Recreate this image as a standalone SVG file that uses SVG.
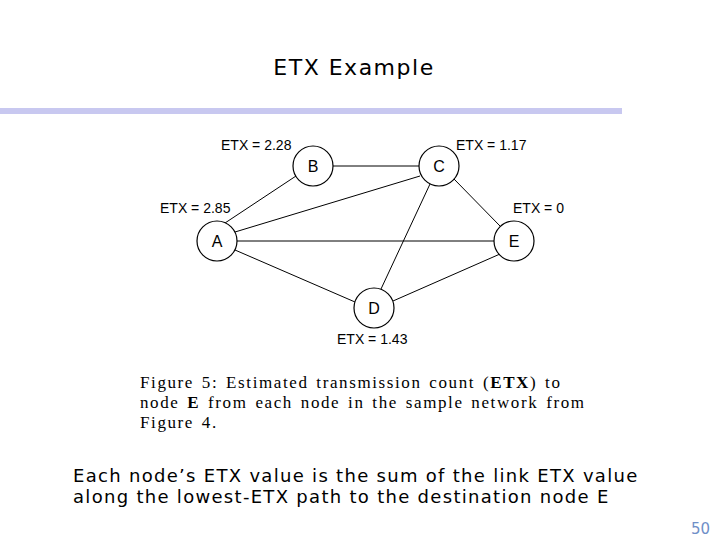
<svg xmlns="http://www.w3.org/2000/svg" width="720" height="540" viewBox="0 0 720 540">
<style>
.n{fill:#fff;stroke:#000;stroke-width:1.2}
.l{font-family:"Liberation Sans",Arial,sans-serif;font-size:14px;fill:#000}
.nl{font-family:"Liberation Sans",Arial,sans-serif;font-size:16px;fill:#000;text-anchor:middle}
.cap{font-family:"Liberation Serif",serif;font-size:17px;fill:#000;letter-spacing:1.6px;word-spacing:2px}
.body{font-family:"DejaVu Sans",sans-serif;font-size:18px;fill:#000;letter-spacing:1.3px}
</style>
<rect width="720" height="540" fill="#fff"/>
<text x="354" y="75" text-anchor="middle" font-family="DejaVu Sans,sans-serif" font-size="22" letter-spacing="1.5">ETX Example</text>
<rect x="0" y="108" width="622" height="6" fill="#c8c8f0"/>
<g id="connectors" stroke="#000" stroke-width="1">
<line x1="333" y1="166" x2="419" y2="166"/>
<line x1="225" y1="223" x2="296" y2="176"/>
<line x1="235" y1="232" x2="420" y2="176"/>
<line x1="237" y1="241" x2="494" y2="241"/>
<line x1="235" y1="250" x2="355" y2="302"/>
<line x1="430" y1="184" x2="381" y2="289"/>
<line x1="454" y1="179" x2="500" y2="226"/>
<line x1="393" y1="301" x2="500" y2="254"/>
</g>
<g id="A"><circle class="n" cx="217" cy="241" r="20"/><text class="nl" x="217" y="247">A</text><text class="l" x="160" y="213">ETX = 2.85</text></g>
<g id="B"><circle class="n" cx="313" cy="166" r="20"/><text class="nl" x="313" y="172">B</text><text class="l" x="221" y="150">ETX = 2.28</text></g>
<g id="C"><circle class="n" cx="439" cy="166" r="20"/><text class="nl" x="439" y="172">C</text><text class="l" x="456" y="150">ETX = 1.17</text></g>
<g id="E"><circle class="n" cx="514" cy="241" r="20"/><text class="nl" x="514" y="247">E</text><text class="l" x="513" y="213">ETX = 0</text></g>
<g id="D"><circle class="n" cx="374" cy="308" r="20"/><text class="nl" x="374" y="314">D</text><text class="l" x="337" y="344">ETX = 1.43</text></g>
<text class="cap" x="140" y="388">Figure 5:  Estimated transmission count (<tspan font-weight="bold">ETX</tspan>) to</text>
<text class="cap" x="140" y="408">node <tspan font-weight="bold">E</tspan> from each node in the sample network from</text>
<text class="cap" x="140" y="428">Figure 4.</text>
<text class="body" x="73" y="482">Each node’s ETX value is the sum of the link ETX value</text>
<text class="body" x="73" y="503">along the lowest-ETX path to the destination node E</text>
<text x="710" y="534" text-anchor="end" font-family="DejaVu Sans,sans-serif" font-size="15" fill="#6f8fc8">50</text>
</svg>
